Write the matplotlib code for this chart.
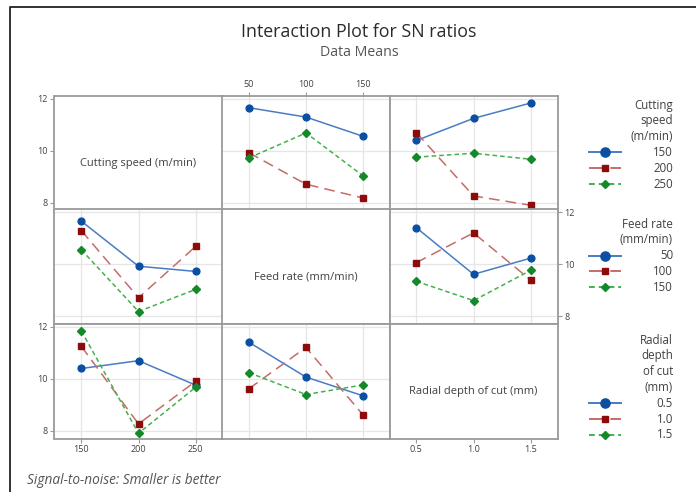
import numpy as np
import matplotlib
matplotlib.use("Agg")
from matplotlib import pyplot as plt
from matplotlib.lines import Line2D

plt.rcParams['font.family'] = ['Open Sans', 'DejaVu Sans']

# factor levels
speed_levels = [150, 200, 250]
feed_levels = [50, 100, 150]
depth_levels = [0.5, 1.0, 1.5]

speed_ticks = ['150', '200', '250']
feed_ticks = ['50', '100', '150']
depth_ticks = ['0.5', '1.0', '1.5']

factor_names = ['Cutting speed (m/min)', 'Feed rate (mm/min)', 'Radial depth of cut (mm)']
legend_titles = [['Cutting', 'speed', '(m/min)'], ['Feed rate', '(mm/min)'],
                 ['Radial', 'depth', 'of cut', '(mm)']]

# SN ratio means, rows = first factor level, cols = second factor level
speed_feed = [[11.65, 11.29, 10.55],
              [9.92, 8.71, 8.18],
              [9.72, 10.68, 9.03]]
speed_depth = [[10.39, 11.24, 11.83],
               [10.69, 8.26, 7.90],
               [9.75, 9.90, 9.67]]
feed_depth = [[11.40, 9.61, 10.23],
              [10.06, 11.20, 9.39],
              [9.34, 8.60, 9.76]]

levels = [speed_levels, feed_levels, depth_levels]
ticklabels = [speed_ticks, feed_ticks, depth_ticks]
pair = {(0, 1): np.array(speed_feed), (0, 2): np.array(speed_depth),
        (1, 2): np.array(feed_depth)}

line_cols = ['#4a7cc4', '#c46c68', '#45b04f']
mark_cols = ['#0b4fa3', '#8e0b0b', '#138a2a']
markers = ['o', 's', 'D']
msizes = [4.9, 4.6, 3.7]
dashes = [None, (7, 4), (3, 2)]

W, H = 696, 492
fig = plt.figure(figsize=(W / 100, H / 100), dpi=100)

def fx(px):
    return px / W

def fy(py):
    return 1 - py / H

col_x = [54.5, 222, 389.5]
col_w = 168
row_y = [96, 209.5, 324]
row_h = 114.5
ylim = (7.7, 12.1)

grid_c = '#e6e6e6'
spine_c = '#9a9a9a'
txt_c = '#404040'

for r in range(3):
    for c in range(3):
        ax = fig.add_axes([fx(col_x[c]), fy(row_y[r] + row_h), col_w / W, row_h / H])
        lv = levels[c]
        step = lv[1] - lv[0]
        ax.set_xlim(lv[0] - 0.47 * step, lv[-1] + 0.47 * step)
        ax.set_ylim(*ylim)
        for s in ax.spines.values():
            s.set_color(spine_c)
            s.set_linewidth(1.3)
        ax.tick_params(length=3, color=spine_c, labelsize=6.5,
                       labelcolor=txt_c, pad=2)
        ax.set_xticks(lv)
        ax.set_yticks([8, 10, 12])
        ax.set_xticklabels(ticklabels[c])
        ax.set_yticklabels(['8', '10', '12'])
        # tick placement like Minitab matrix
        ax.tick_params(bottom=False, labelbottom=False, left=False, labelleft=False)
        if r == 2 and c in (0, 2):
            ax.tick_params(bottom=True, labelbottom=True)
        if r == 0 and c == 1:
            ax.tick_params(top=True, labeltop=True)
        if c == 0 and r in (0, 2):
            ax.tick_params(left=True, labelleft=True)
        if c == 2 and r == 1:
            ax.tick_params(right=True, labelright=True)

        if r == c:
            ax.text(0.5, 0.41, factor_names[r], transform=ax.transAxes,
                    ha='center', va='center', fontsize=8, color=txt_c)
            continue

        ax.grid(True, color=grid_c, linewidth=0.9)
        ax.set_axisbelow(True)
        if r < c:
            data = pair[(r, c)]
        else:
            data = pair[(c, r)].T
        for i in range(3):
            ln, = ax.plot(lv, data[i], color=line_cols[i], linewidth=1.1,
                          marker=markers[i], markersize=msizes[i],
                          markerfacecolor=mark_cols[i], markeredgecolor=mark_cols[i])
            if dashes[i] is not None:
                ln.set_dashes(dashes[i])

# legends drawn by hand, one per row
leg_tops = [105, 224, 340]
step_px = 15.8
leg_msizes = [6.6, 4.5, 4.0]
for r in range(3):
    y = leg_tops[r]
    for t in legend_titles[r]:
        fig.text(fx(673), fy(y), t, ha='right', va='center', fontsize=8.3, color=txt_c)
        y += step_px
    for i in range(3):
        h = Line2D([fx(589), fx(621)], [fy(y), fy(y)], color=line_cols[i],
                   linewidth=1.4, transform=fig.transFigure)
        if dashes[i] is not None:
            h.set_dashes(dashes[i])
        fig.add_artist(h)
        fig.add_artist(Line2D([fx(605)], [fy(y)], marker=markers[i],
                              markersize=leg_msizes[i], color=mark_cols[i],
                              transform=fig.transFigure))
        fig.text(fx(673), fy(y), ticklabels[r][i], ha='right', va='center',
                 fontsize=8.3, color=txt_c)
        y += step_px

fig.text(fx(359), fy(32), 'Interaction Plot for SN ratios', ha='center',
         va='center', fontsize=12.8, color='#2a2a2a')
fig.text(fx(359), fy(52), 'Data Means', ha='center', va='center',
         fontsize=10.2, color='#555555')
fig.text(fx(27), fy(481), 'Signal-to-noise: Smaller is better', ha='left',
         va='center', fontsize=9.8, style='italic', color='#555555')

# outer frame (left and top edges)
fig.add_artist(Line2D([fx(10), fx(10), 1], [0, fy(7), fy(7)],
                      color='#222222', linewidth=1.3, transform=fig.transFigure))

fig.savefig('out.png', dpi=100)
